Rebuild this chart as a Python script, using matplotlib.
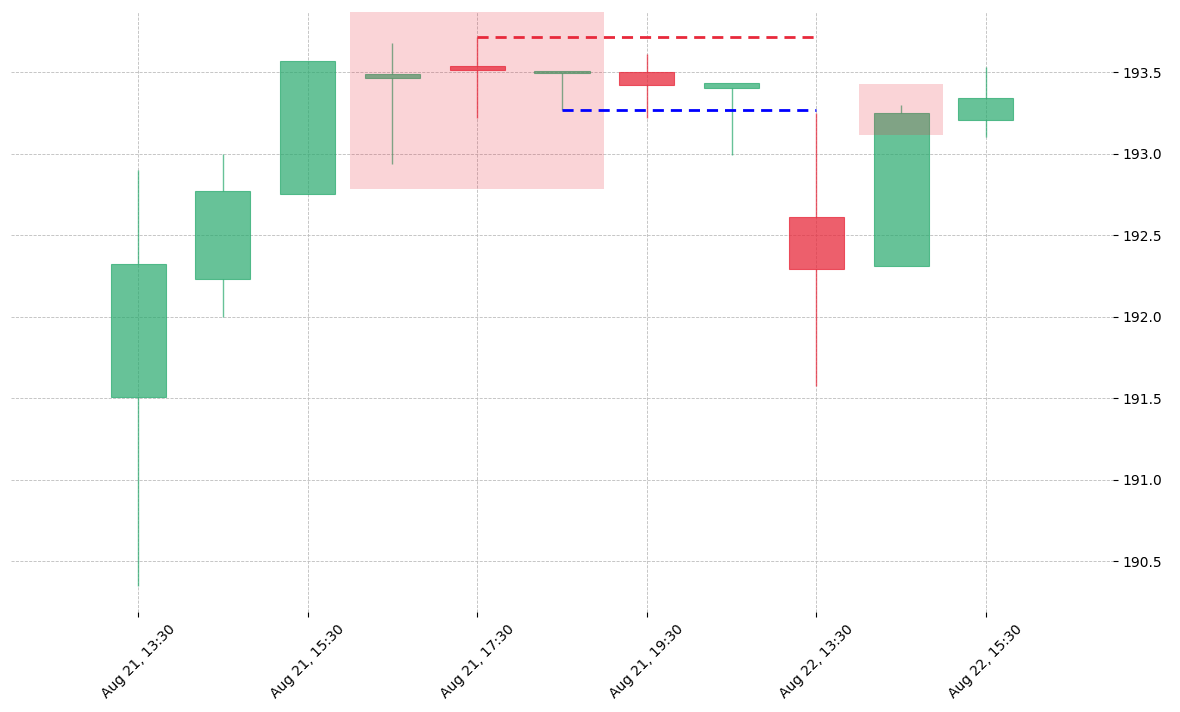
#!/usr/bin/env python3
"""Candlestick chart with highlighted pattern zones and level lines."""

from __future__ import annotations

import matplotlib

matplotlib.use("Agg")
import matplotlib.pyplot as plt
from matplotlib.patches import Rectangle

UP_COLOR = "#26a96c"
DOWN_COLOR = "#e8293b"

opens = [191.506, 192.230, 192.752, 193.465, 193.537, 193.495,
         193.502, 193.404, 192.612, 192.312, 193.206]
highs = [192.899, 193.000, 193.567, 193.678, 193.715, 193.505,
         193.610, 193.433, 193.248, 193.298, 193.533]
lows = [190.347, 192.000, 192.752, 192.936, 193.218, 193.267,
        193.218, 192.990, 191.574, 192.312, 193.100]
closes = [192.322, 192.770, 193.567, 193.488, 193.512, 193.505,
          193.422, 193.433, 192.290, 193.250, 193.342]

tick_labels = ["Aug 21, 13:30", "Aug 21, 15:30", "Aug 21, 17:30",
               "Aug 21, 19:30", "Aug 22, 13:30", "Aug 22, 15:30"]

# highlighted zones: (first candle, last candle, bottom, top)
zones = [(3, 5, 192.784, 193.95), (9, 9, 193.115, 193.426)]

# horizontal levels: (start candle, end candle, price, colour)
levels = [(4, 8, 193.715, DOWN_COLOR), (5, 8, 193.267, "#0000ff")]


def draw_candles(axis: plt.Axes) -> None:
    width = 0.65
    for index, (o, h, l, c) in enumerate(zip(opens, highs, lows, closes)):
        color = UP_COLOR if c >= o else DOWN_COLOR
        alpha = 0.7 if c >= o else 0.75
        bottom = min(o, c)
        height = max(abs(c - o), 0.012)
        top = bottom + height
        # wick pieces outside the body so they do not show through it
        if h > top:
            axis.vlines(index, top, h, color=color, linewidth=1.0,
                        alpha=alpha, zorder=2)
        if l < bottom:
            axis.vlines(index, l, bottom, color=color, linewidth=1.0,
                        alpha=alpha, zorder=2)
        axis.add_patch(Rectangle((index - width / 2, bottom), width, height,
                                 facecolor=color, edgecolor=color,
                                 linewidth=0.8, alpha=alpha, zorder=3))


def main() -> int:
    figure = plt.figure(figsize=(11.8, 7.12), dpi=100)
    axis = figure.add_axes([0.0093, 0.1404, 0.9339, 0.8427])

    draw_candles(axis)

    for first, last, bottom, top in zones:
        axis.add_patch(Rectangle((first - 0.5, bottom), last - first + 1,
                                 top - bottom, facecolor=DOWN_COLOR,
                                 edgecolor="none", alpha=0.2, zorder=4))

    for start, end, price, color in levels:
        axis.plot([start, end], [price, price], color=color, linewidth=2.0,
                  linestyle=(0, (4, 2.5)), zorder=5)

    axis.set_xlim(-1.5, 11.5)
    axis.set_ylim(190.187, 193.868)
    axis.set_xticks(range(0, len(opens), 2), tick_labels, rotation=45,
                    ha="center", fontsize=10)
    axis.set_yticks([190.5, 191.0, 191.5, 192.0, 192.5, 193.0, 193.5])
    axis.yaxis.tick_right()
    axis.tick_params(axis="y", labelsize=10)
    axis.grid(True, linestyle="--", linewidth=0.6, color="#bdbdbd")
    axis.set_axisbelow(True)
    for spine in axis.spines.values():
        spine.set_visible(False)

    figure.savefig("out.png", dpi=100)
    plt.close(figure)
    return 0


if __name__ == "__main__":
    raise SystemExit(main())
